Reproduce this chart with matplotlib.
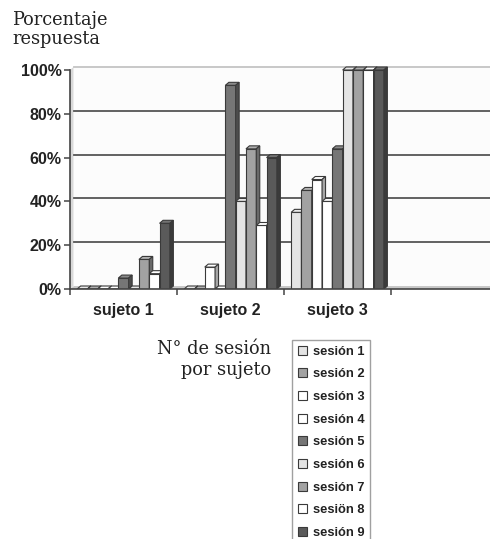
import matplotlib
matplotlib.use("Agg")
import matplotlib.pyplot as plt
from matplotlib.patches import Polygon, Patch
import numpy as np

categories = ["sujeto 1", "sujeto 2", "sujeto 3"]
sessions = ["sesión 1", "sesión 2", "sesión 3", "sesión 4", "sesión 5",
            "sesión 6", "sesión 7", "sesiön 8", "sesión 9"]
s1 = [0, 0, 35]
s2 = [0, 0, 45]
s3 = [0, 10, 50]
s4 = [0, 0, 40]
s5 = [5, 93, 64]
s6 = [0, 40, 100]
s7 = [13.5, 64, 100]
s8 = [7, 29, 100]
s9 = [30, 60, 100]
values = [s1, s2, s3, s4, s5, s6, s7, s8, s9]
yticks = [0, 20, 40, 60, 80, 100]
ytick_labels = ["0%", "20%", "40%", "60%", "80%", "100%"]

colors = ["#e4e4e4", "#a2a2a2", "#ffffff", "#ffffff", "#767676",
          "#e4e4e4", "#a2a2a2", "#ffffff", "#5a5a5a"]

W, H = 490, 539
fig = plt.figure(figsize=(W / 100, H / 100), dpi=100)
ncat_axis = 4
cat_px = 107
ax = fig.add_axes([70 / W, (H - 289) / H, ncat_axis * cat_px / W, 219 * 1.03 / H])
ax.set_xlim(-0.5, ncat_axis - 0.5)
ax.set_ylim(0, 103)
ax.set_facecolor("none")

# 3D offsets (data units) derived from pixel sizes
dx = 3.5 / cat_px
dy = 3.0 / 2.19

def shade(c, f):
    r, g, b = matplotlib.colors.to_rgb(c)
    return (r * f, g * f, b * f)

def lighten(c, f):
    r, g, b = matplotlib.colors.to_rgb(c)
    return (r + (1 - r) * f, g + (1 - g) * f, b + (1 - b) * f)

# back wall
wx0 = -0.5 + dx
ax.add_patch(Polygon([(-0.5, 0), (wx0, dy), (wx0, 100 + dy), (-0.5, 100)],
                     closed=True, facecolor="#d8d8d8", edgecolor="none", zorder=0.5))
ax.add_patch(Polygon([(wx0, dy), (ncat_axis, dy), (ncat_axis, 100 + dy), (wx0, 100 + dy)],
                     closed=True, facecolor="#fcfcfc", edgecolor="none", zorder=0.4))
for v in yticks[1:-1]:
    ax.plot([wx0, ncat_axis], [v + dy, v + dy], color="#555555", lw=1.3, zorder=1)
ax.plot([wx0, ncat_axis], [100 + dy, 100 + dy], color="#c4c4c4", lw=1.3, zorder=1)
# floor
ax.add_patch(Polygon([(-0.5, 0), (ncat_axis, 0), (ncat_axis, dy), (wx0, dy)],
                     closed=True, facecolor="#c8c8c8", edgecolor="none", zorder=1))

bw = 0.0963
nses = len(values)
z = 2
for i in range(len(categories)):
    for j in range(nses):
        v = values[j][i]
        x0 = i - nses * bw / 2 + j * bw
        x1 = x0 + bw
        c = colors[j]
        ec = "#3a3a3a"
        ax.bar(x0, v, width=bw, align="edge", color=c, edgecolor=ec, lw=0.8, zorder=z)
        ax.add_patch(Polygon([(x0, v), (x0 + dx, v + dy), (x1 + dx, v + dy), (x1, v)],
                             closed=True, facecolor=lighten(c, 0.15), edgecolor=ec, lw=0.8, zorder=z + 0.1))
        ax.add_patch(Polygon([(x1, 0), (x1 + dx, dy), (x1 + dx, v + dy), (x1, v)],
                             closed=True, facecolor=shade(c, 0.65), edgecolor=ec, lw=0.8, zorder=z + 0.2))
        z += 1

for s in ["top", "right"]:
    ax.spines[s].set_visible(False)
ax.spines["left"].set_bounds(0, 100)
ax.spines["left"].set_color("#444444")
ax.spines["bottom"].set_color("#444444")
ax.spines["left"].set_linewidth(1.2)
ax.spines["bottom"].set_linewidth(1.2)
ax.spines["left"].set_zorder(200)
ax.spines["bottom"].set_zorder(200)

ax.set_yticks(yticks)
ax.set_yticklabels(ytick_labels, fontfamily="Liberation Sans", fontweight="bold",
                   fontsize=11.5, color="#222222")
ax.tick_params(axis="y", direction="out", length=4, width=1.1, color="#444444", pad=2)

ax.set_xticks(np.arange(len(categories)))
ax.set_xticklabels(categories, fontfamily="Liberation Sans", fontweight="bold",
                   fontsize=11.5, color="#222222")
ax.tick_params(axis="x", which="major", length=0, pad=10)
ax.set_xticks(np.arange(ncat_axis + 1) - 0.5, minor=True)
ax.tick_params(axis="x", which="minor", direction="out", length=4, width=1.1, color="#444444")

fig.text(12 / W, 1 - 11 / H, "Porcentaje\nrespuesta", ha="left", va="top",
         fontfamily="DejaVu Serif", fontsize=12.8, color="#222222", linespacing=1.05)
fig.text(271 / W, 1 - 340 / H, "N° de sesión\npor sujeto", ha="right", va="top",
         multialignment="right", fontfamily="DejaVu Serif", fontsize=12.8,
         color="#222222", linespacing=1.2)

handles = [Patch(facecolor=c, edgecolor="#3a3a3a", lw=0.8) for c in colors]
leg = fig.legend(handles, sessions, loc="upper left",
                 bbox_to_anchor=(292 / W, 1 - 340 / H), borderaxespad=0,
                 prop={"family": "Liberation Sans", "weight": "bold", "size": 9.3},
                 frameon=True, fancybox=False, edgecolor="#888888",
                 handlelength=0.7, handleheight=0.7, handletextpad=0.45,
                 labelspacing=0.82, borderpad=0.45)
leg.get_frame().set_linewidth(1.0)
for t in leg.get_texts():
    t.set_color("#222222")

fig.savefig("out.png", dpi=100)
